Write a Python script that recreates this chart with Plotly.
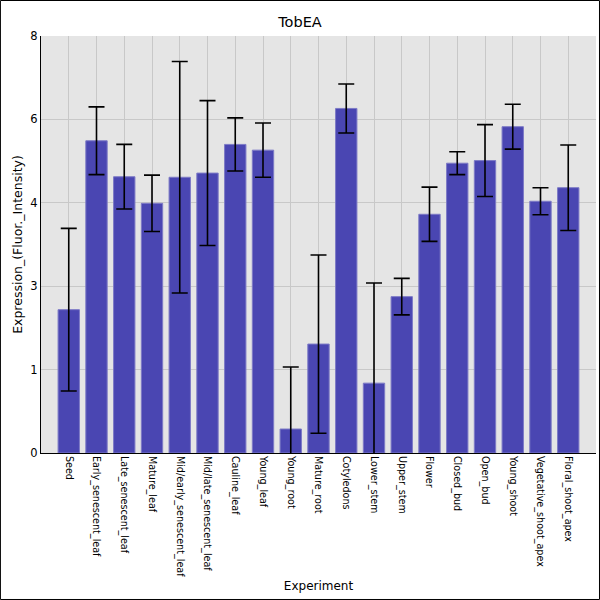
import plotly.graph_objects as go

# tissue / experiment names along the x axis
experiments = [
    'Seed', 'Early_senescent_leaf', 'Late_senescent_leaf', 'Mature_leaf',
    'Mid/early_senescent_leaf', 'Mid/late_senescent_leaf', 'Cauline_leaf',
    'Young_leaf', 'Young_root', 'Mature_root', 'Cotyledons', 'Lower_stem',
    'Upper_stem', 'Flower', 'Closed_bud', 'Open_bud', 'Young_shoot',
    'Vegetative_shoot_apex', 'Floral_shoot_apex',
]
expression = [2.75, 5.99, 5.30, 4.79, 5.29, 5.37, 5.92, 5.81, 0.46, 2.09,
              6.61, 1.34, 3.00, 4.58, 5.56, 5.61, 6.26, 4.83, 5.09]
std_err = [1.56, 0.65, 0.62, 0.54, 2.22, 1.39, 0.51, 0.52, 1.19, 1.71,
           0.47, 1.92, 0.35, 0.52, 0.22, 0.69, 0.43, 0.26, 0.82]

# y ticks are evenly spaced but the labels are truncated integers
y_tickvals = [0, 1.6, 3.2, 4.8, 6.4, 8]
y_ticktext = ['0', '1', '3', '4', '6', '8']

fig = go.Figure()
fig.add_trace(go.Bar(
    x=experiments,
    y=expression,
    width=0.77,
    marker=dict(color='#4a46b2', line=dict(color='#7d7ac6', width=1)),
    error_y=dict(type='data', array=std_err, color='black',
                 thickness=1.6, width=8),
))

fig.update_layout(
    width=600, height=600,
    margin=dict(l=41, r=4, t=36, b=147),
    paper_bgcolor='white',
    plot_bgcolor='#e5e5e5',
    font=dict(family='DejaVu Sans', color='black'),
    title=dict(text='TobEA', x=0.5, xref='container', xanchor='center',
               y=0.964, yref='container', yanchor='middle',
               font=dict(size=14.5, color='black')),
    showlegend=False,
    shapes=[dict(type='rect', xref='paper', yref='paper',
                 x0=-0.0731, x1=1.0063, y0=-0.3513, y1=1.0851,
                 line=dict(color='black', width=1), layer='above')],
)
fig.update_xaxes(
    range=[-1, 19],
    tickangle=90,
    tickfont=dict(size=9.6),
    showgrid=True, gridcolor='#c8c8c8', gridwidth=1,
    showline=True, linecolor='black', linewidth=1,
    ticks='', ticklen=0,
    title=dict(text='Experiment', font=dict(size=12), standoff=5),
    automargin=False,
)
fig.update_yaxes(
    range=[0, 8],
    tickvals=y_tickvals, ticktext=y_ticktext,
    tickfont=dict(size=11.5),
    showgrid=True, gridcolor='#c8c8c8', gridwidth=1,
    showline=True, linecolor='black', linewidth=1,
    zeroline=False,
    ticks='', ticklen=3,
    title=dict(text='Expression_(Fluor._Intensity)', font=dict(size=12.5), standoff=4),
    automargin=False,
)

# drop the browser's default page margin so the 600x600 figure fits the window
fig.write_html('out.html', config={'displayModeBar': False},
               post_script="document.body.style.margin = '0';")
